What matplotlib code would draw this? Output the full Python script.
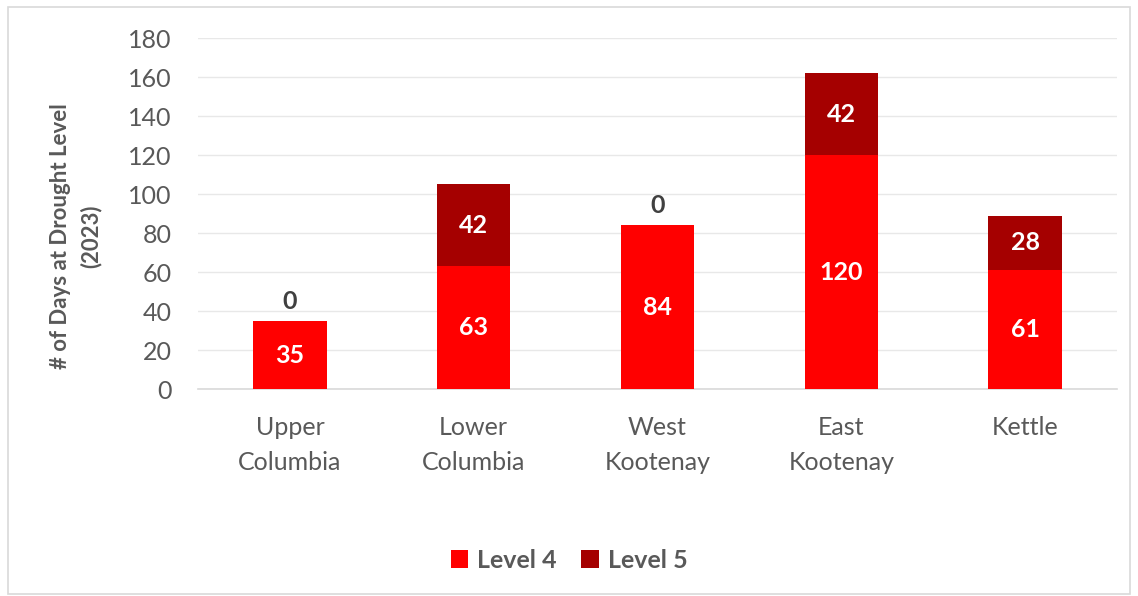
import numpy as np
import matplotlib.pyplot as plt
from matplotlib.patches import Rectangle

regions = ["Upper\nColumbia", "Lower\nColumbia", "West\nKootenay", "East\nKootenay", "Kettle"]
level4 = [35, 63, 84, 120, 61]
level5 = [0, 42, 0, 42, 28]

plt.rcParams['font.family'] = ['Lato', 'DejaVu Sans']

RED = "#ff0000"
DARK_RED = "#a50000"
GRAY = "#595959"
FS = 18

fig = plt.figure(figsize=(11.38, 5.96), dpi=100)
ax = fig.add_axes([0.174, 0.347, 0.8075, 0.589])

x = np.arange(len(regions))
w = 0.40
b4 = ax.bar(x, level4, w, color=RED, label="Level 4", zorder=3)
b5 = ax.bar(x, level5, w, bottom=level4, color=DARK_RED, label="Level 5", zorder=3)

for i in range(len(regions)):
    ax.text(x[i], level4[i] / 2, str(level4[i]), ha="center", va="center",
            color="white", fontsize=FS, fontweight="bold", zorder=4)
    if level5[i] > 0:
        ax.text(x[i], level4[i] + level5[i] / 2, str(level5[i]), ha="center", va="center",
                color="white", fontsize=FS, fontweight="bold", zorder=4)
    else:
        ax.annotate(str(level5[i]), (x[i], level4[i]), xytext=(0, 6), textcoords="offset points",
                    ha="center", va="bottom", color="#404040", fontsize=FS, fontweight="bold")

ax.set_xlim(-0.5, len(regions) - 0.5)
ax.set_ylim(0, 180)
ax.set_yticks(np.arange(0, 181, 20))
ax.set_xticks(x)
ax.set_xticklabels(regions, fontsize=FS, color=GRAY, linespacing=1.65)
ax.tick_params(axis="y", labelsize=FS, labelcolor=GRAY, length=0, pad=19)
ax.tick_params(axis="x", length=0, pad=19)
ax.grid(axis="y", color="#e8e8e8", linewidth=1, zorder=0)
for s in ["top", "right", "left"]:
    ax.spines[s].set_visible(False)
ax.spines["bottom"].set_color("#d9d9d9")
ax.spines["bottom"].set_linewidth(1.2)

ax.set_ylabel("# of Days at Drought Level\n(2023)", fontsize=16, fontweight="bold",
              color=GRAY, linespacing=1.5)
ax.yaxis.set_label_coords(-0.105, 0.436)

fig.legend(handles=[b4, b5], loc="center", bbox_to_anchor=(0.5, 0.06), ncol=2, frameon=False,
           prop={"size": FS, "weight": "bold"}, labelcolor=GRAY, handlelength=0.7,
           handleheight=0.7, handletextpad=0.35, columnspacing=1.0)

fig.patches.append(Rectangle((0.007, 0.003), 0.986, 0.985, transform=fig.transFigure,
                             fill=False, edgecolor="#d9d9d9", linewidth=1.2))

fig.savefig("out.png", dpi=100, facecolor="white")
